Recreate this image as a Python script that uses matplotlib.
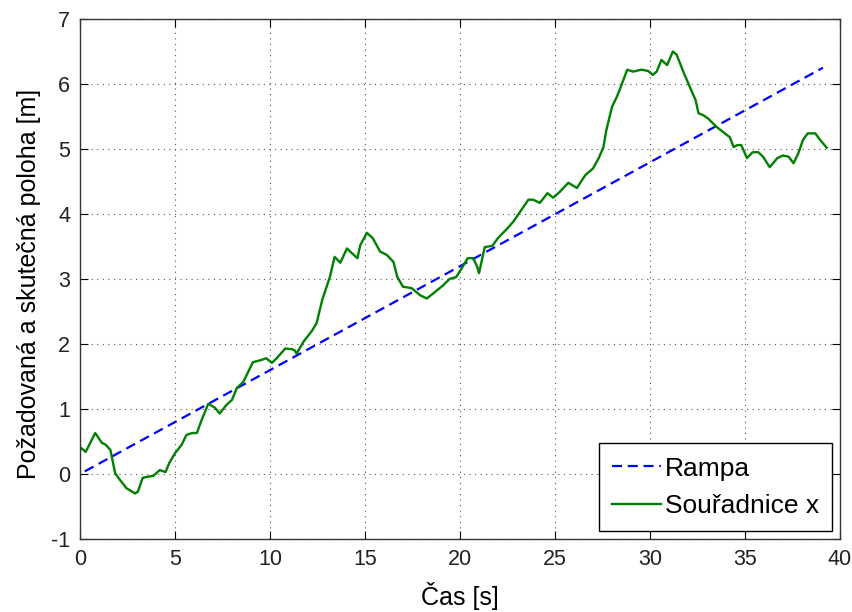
import numpy as np
import matplotlib.pyplot as plt

plt.rcParams['font.family'] = ['Liberation Sans', 'DejaVu Sans']
plt.rcParams['axes.unicode_minus'] = False

# Rampa (pozadovana poloha)
t_ramp = [0.25, 39.1]
x_ramp = [0.04, 6.25]

# Souradnice x (skutecna poloha)
t_x = [0.05, 0.3, 0.8, 1.15, 1.35, 1.6, 1.85, 2.1, 2.45, 2.9, 3.05, 3.3, 3.6,
       3.85, 4.2, 4.5, 4.7, 5.0, 5.35, 5.6, 5.9, 6.15, 6.4, 6.75, 7.1, 7.35,
       7.7, 8.0, 8.25, 8.6, 8.85, 9.1, 9.5, 9.8, 10.1, 10.35, 10.8, 11.15,
       11.3, 11.4, 11.75, 12.2, 12.45, 12.75, 13.15, 13.4, 13.7, 14.05, 14.3,
       14.6, 14.75, 15.1, 15.4, 15.8, 16.15, 16.5, 16.7, 17.0, 17.45, 17.9,
       18.25, 18.6, 19.1, 19.45, 19.8, 20.1, 20.4, 20.7, 20.9, 21.0, 21.3,
       21.7, 22.0, 22.5, 22.8, 23.15, 23.6, 23.85, 24.2, 24.6, 24.9, 25.25,
       25.7, 26.15, 26.6, 27.0, 27.3, 27.55, 27.7, 28.0, 28.25, 28.4, 28.8,
       29.1, 29.55, 29.9, 30.15, 30.35, 30.6, 30.9, 31.2, 31.4, 31.75, 32.1,
       32.4, 32.55, 32.8, 33.05, 33.5, 33.85, 34.2, 34.4, 34.6, 34.8, 35.1,
       35.4, 35.7, 35.95, 36.3, 36.7, 37.0, 37.3, 37.55, 37.8, 38.05, 38.3,
       38.7, 38.95, 39.3]
y_x = [0.4, 0.34, 0.63, 0.48, 0.45, 0.37, 0.01, -0.09, -0.22, -0.3, -0.27,
       -0.06, -0.04, -0.03, 0.06, 0.03, 0.17, 0.32, 0.45, 0.6, 0.63, 0.63,
       0.83, 1.08, 1.02, 0.93, 1.06, 1.14, 1.32, 1.42, 1.57, 1.72, 1.75, 1.78,
       1.71, 1.78, 1.93, 1.92, 1.9, 1.85, 2.03, 2.2, 2.32, 2.68, 3.03, 3.34,
       3.25, 3.47, 3.4, 3.32, 3.52, 3.71, 3.63, 3.42, 3.37, 3.26, 3.03, 2.88,
       2.86, 2.75, 2.7, 2.78, 2.9, 3.0, 3.03, 3.17, 3.32, 3.32, 3.19, 3.09,
       3.49, 3.51, 3.63, 3.78, 3.88, 4.03, 4.22, 4.22, 4.17, 4.32, 4.25, 4.34,
       4.48, 4.4, 4.6, 4.7, 4.86, 5.03, 5.29, 5.65, 5.8, 5.91, 6.22, 6.19,
       6.22, 6.2, 6.14, 6.19, 6.37, 6.29, 6.5, 6.45, 6.19, 5.95, 5.75, 5.55,
       5.52, 5.47, 5.34, 5.26, 5.18, 5.03, 5.06, 5.06, 4.86, 4.95, 4.95, 4.88,
       4.72, 4.86, 4.9, 4.88, 4.78, 4.93, 5.14, 5.24, 5.24, 5.14, 5.02]

fig = plt.figure(figsize=(8.53, 6.12), dpi=100)
ax = fig.add_axes([0.0938, 0.1193, 0.891, 0.8497])

ax.plot(t_ramp, x_ramp, color='#0000ff', linestyle='--', linewidth=1.6,
        dashes=(4.5, 2.6), label='Rampa')
ax.plot(t_x, y_x, color='#008000', linewidth=1.7, label='Souřadnice x')

ax.set_xlim(0, 40)
ax.set_ylim(-1, 7)
ax.set_xticks(range(0, 41, 5))
ax.set_yticks(range(-1, 8))
ax.grid(True, linestyle=(0, (1, 4)), color='#555555', linewidth=0.8)
ax.tick_params(direction='in', top=True, right=True, length=6,
               labelsize=15.5, labelcolor='#222222', pad=7)
for s in ax.spines.values():
    s.set_color('#333333')
    s.set_linewidth(1.0)

ax.set_xlabel('Čas [s]', fontsize=18, va='center')
ax.set_ylabel('Požadovaná a skutečná poloha [m]', fontsize=18, va='center')
ax.xaxis.set_label_coords(0.5, -0.1095)
ax.yaxis.set_label_coords(-0.067, 0.49)

leg = ax.legend(loc='lower right', prop={'size': 19}, fancybox=False,
                framealpha=1, edgecolor='black', handlelength=1.85,
                handletextpad=0.15, borderpad=0.5, labelspacing=0.5,
                borderaxespad=0.3)
leg.get_frame().set_linewidth(1.0)

fig.savefig('out.png', dpi=100)
